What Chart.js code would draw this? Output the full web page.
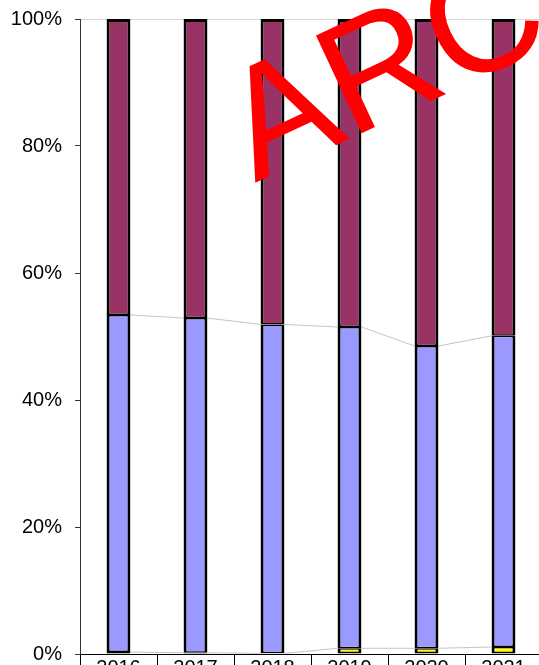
<!DOCTYPE html>
<html>
<head>
<meta charset="utf-8">
<script src="https://cdn.jsdelivr.net/npm/chart.js@4"></script>
<style>
  html, body { margin: 0; padding: 0; background: #fff; overflow: hidden; }
  #wrap { width: 545px; height: 700px; }
</style>
</head>
<body>
<div id="wrap"><canvas id="shareChart" width="545" height="700"></canvas></div>
<script>
const years = ['2016', '2017', '2018', '2019', '2020', '2021'];
const yellowShare = [0.3, 0.2, 0.1, 0.9, 0.9, 1.1];
const blueShare = [53.1, 52.7, 51.8, 50.6, 47.6, 49.0];
const maroonShare = [46.6, 47.1, 48.1, 48.5, 51.5, 49.9];
const yTicks = [0, 20, 40, 60, 80, 100];

const axisFont = { family: 'Arial, "Liberation Sans", sans-serif', size: 20 };

// --- thin grey lines joining the tops of each segment ---
const seriesLines = {
    id: 'seriesLines',
    beforeDatasetsDraw(chart) {
        const ctx = chart.ctx;
        ctx.save();
        ctx.strokeStyle = '#c4c4c4';
        ctx.lineWidth = 1;
        chart.data.datasets.forEach((ds, di) => {
            if (di === chart.data.datasets.length - 1) return;
            const bars = chart.getDatasetMeta(di).data;
            ctx.beginPath();
            for (let i = 0; i < bars.length - 1; i++) {
                const a = bars[i], b = bars[i + 1];
                ctx.moveTo(a.x + a.width / 2, a.y);
                ctx.lineTo(b.x - b.width / 2, b.y);
            }
            ctx.stroke();
        });
        ctx.restore();
    }
};

// --- red watermark ---
const watermark = {
    id: 'watermark',
    afterDraw(chart) {
        const ctx = chart.ctx;
        ctx.save();
        ctx.translate(255, 183);
        ctx.rotate(-25 * Math.PI / 180);
        ctx.fillStyle = '#ff0000';
        ctx.font = '157px Arial, "Liberation Sans", sans-serif';
        ctx.textAlign = 'left';
        ctx.textBaseline = 'alphabetic';
        ctx.fillText('ARC', 0, 0);
        ctx.restore();
    }
};

function makeSet(label, data, color, top, bottom) {
    return {
        label: label,
        data: data,
        backgroundColor: color,
        borderColor: '#000',
        borderWidth: { left: 3, right: 3, top: top, bottom: bottom },
        borderSkipped: false,
        inflateAmount: 0,
        categoryPercentage: 1,
        barPercentage: 0.31
    };
}

new Chart(document.getElementById('shareChart'), {
    type: 'bar',
    data: {
        labels: years,
        datasets: [
            makeSet('Yellow', yellowShare, '#ffff00', 1.5, 2),
            makeSet('Blue', blueShare, '#9999ff', 1.5, 1.5),
            makeSet('Maroon', maroonShare, '#993366', 3, 1.5)
        ]
    },
    options: {
        responsive: false,
        animation: false,
        devicePixelRatio: 1,
        layout: { padding: { top: 19, right: 3, left: 0, bottom: 0 } },
        plugins: { legend: { display: false }, tooltip: { enabled: false } },
        scales: {
            x: {
                stacked: true,
                grid: { offset: true, drawOnChartArea: false, tickLength: 12, tickColor: '#000' },
                border: { color: '#000', width: 1 },
                ticks: { color: '#000', font: axisFont, padding: -10, maxRotation: 0 },
                afterFit(scale) {
                    scale.height = 46;
                    scale.paddingLeft = 0;
                    scale.paddingRight = 0;
                }
            },
            y: {
                stacked: true,
                min: 0,
                max: 100,
                afterBuildTicks(scale) { scale.ticks = yTicks.map(v => ({ value: v })); },
                grid: {
                    color: (c) => (c.tick && c.tick.value === 100 ? '#d6d6d6' : 'rgba(0,0,0,0)'),
                    tickColor: '#333',
                    tickLength: 5
                },
                border: { color: '#333', width: 1 },
                ticks: { color: '#000', font: axisFont, padding: 13, callback: (v) => v + '%' },
                afterFit(scale) {
                    scale.width = 80;
                    scale.paddingTop = 0;
                    scale.paddingBottom = 0;
                }
            }
        }
    },
    plugins: [seriesLines, watermark]
});
</script>
</body>
</html>
